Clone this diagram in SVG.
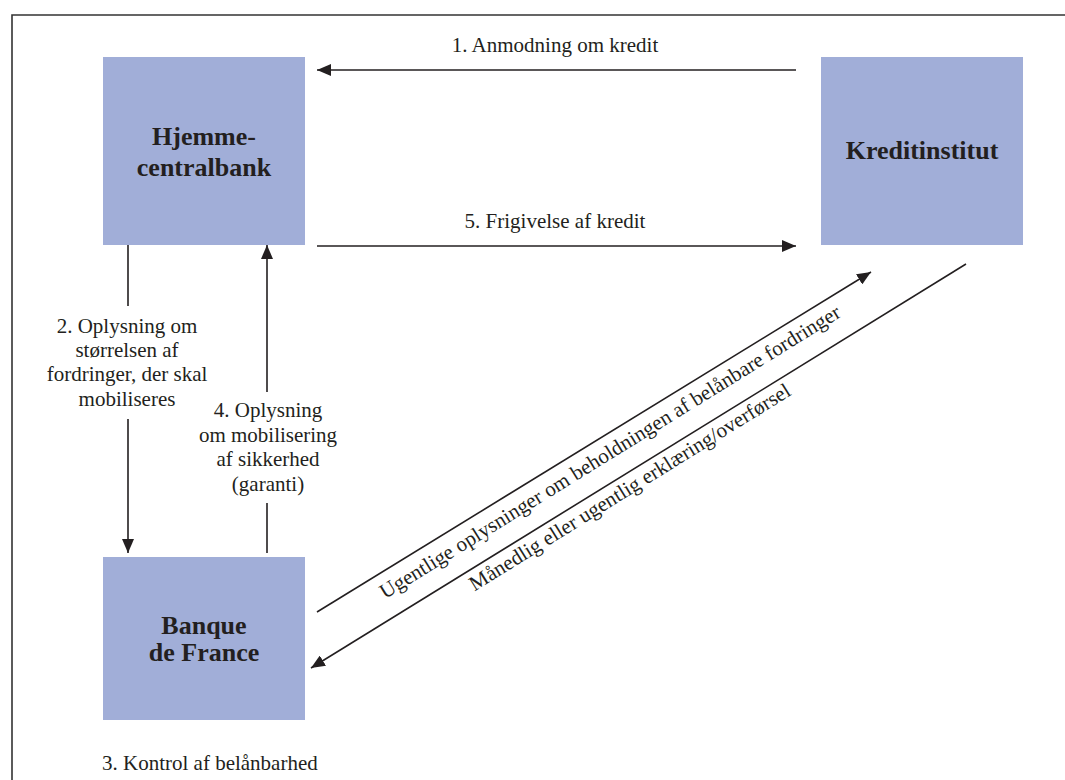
<svg xmlns="http://www.w3.org/2000/svg" width="1065" height="780" viewBox="0 0 1065 780">
<style>
.box{fill:#A1AED8;}
.title{font-family:"Liberation Serif",serif;font-weight:bold;font-size:26px;fill:#231F20;text-anchor:middle;}
.lbl{font-family:"Liberation Serif",serif;font-size:21px;fill:#231F20;text-anchor:middle;}
.ln{stroke:#231F20;stroke-width:1.6;fill:none;}
</style>
<defs>
<marker id="ah" viewBox="0 0 14 12" refX="14" refY="6" markerWidth="14" markerHeight="12" markerUnits="userSpaceOnUse" orient="auto">
<path d="M0,0 L14,6 L0,12 Z" fill="#231F20"/>
</marker>
</defs>
<rect width="1065" height="780" fill="#fff"/>
<path d="M12,780 V15 H1065" fill="none" stroke="#333" stroke-width="1.6"/>
<g id="hjemme">
<rect class="box" x="103" y="57" width="202" height="188"/>
<text class="title" x="204" y="145">Hjemme-</text>
<text class="title" x="204" y="176">centralbank</text>
</g>
<g id="kredit">
<rect class="box" x="821" y="57" width="202" height="188"/>
<text class="title" x="922" y="159">Kreditinstitut</text>
</g>
<g id="banque">
<rect class="box" x="103" y="557" width="202" height="163"/>
<text class="title" x="204" y="634">Banque</text>
<text class="title" x="204" y="661">de France</text>
</g>
<g id="connectors">
<line class="ln" x1="796" y1="70" x2="317" y2="70" marker-end="url(#ah)"/>
<text class="lbl" x="555" y="52">1. Anmodning om kredit</text>
<line class="ln" x1="317" y1="246" x2="796" y2="246" marker-end="url(#ah)"/>
<text class="lbl" x="555" y="228">5. Frigivelse af kredit</text>
<line class="ln" x1="128" y1="245" x2="128" y2="306"/>
<line class="ln" x1="128" y1="419" x2="128" y2="553" marker-end="url(#ah)"/>
<text class="lbl"><tspan x="127" y="333">2. Oplysning om</tspan><tspan x="127" y="357">størrelsen af</tspan><tspan x="127" y="381">fordringer, der skal</tspan><tspan x="127" y="406">mobiliseres</tspan></text>
<line class="ln" x1="267" y1="553" x2="267" y2="503"/>
<line class="ln" x1="267" y1="392" x2="267" y2="245" marker-end="url(#ah)"/>
<text class="lbl"><tspan x="268" y="417">4. Oplysning</tspan><tspan x="268" y="442">om mobilisering</tspan><tspan x="268" y="466">af sikkerhed</tspan><tspan x="268" y="491">(garanti)</tspan></text>
<line class="ln" x1="317" y1="612" x2="871" y2="272" marker-end="url(#ah)"/>
<line class="ln" x1="966" y1="264" x2="311" y2="668" marker-end="url(#ah)"/>
<text class="lbl" transform="translate(602,439) rotate(-31.8)" x="0" y="22">Ugentlige oplysninger om beholdningen af belånbare fordringer</text>
<text class="lbl" transform="translate(621,473) rotate(-31.8)" x="0" y="23.5">Månedlig eller ugentlig erklæring/overførsel</text>
<text class="lbl" x="102" y="770" style="text-anchor:start">3. Kontrol af belånbarhed</text>
</g>
</svg>
